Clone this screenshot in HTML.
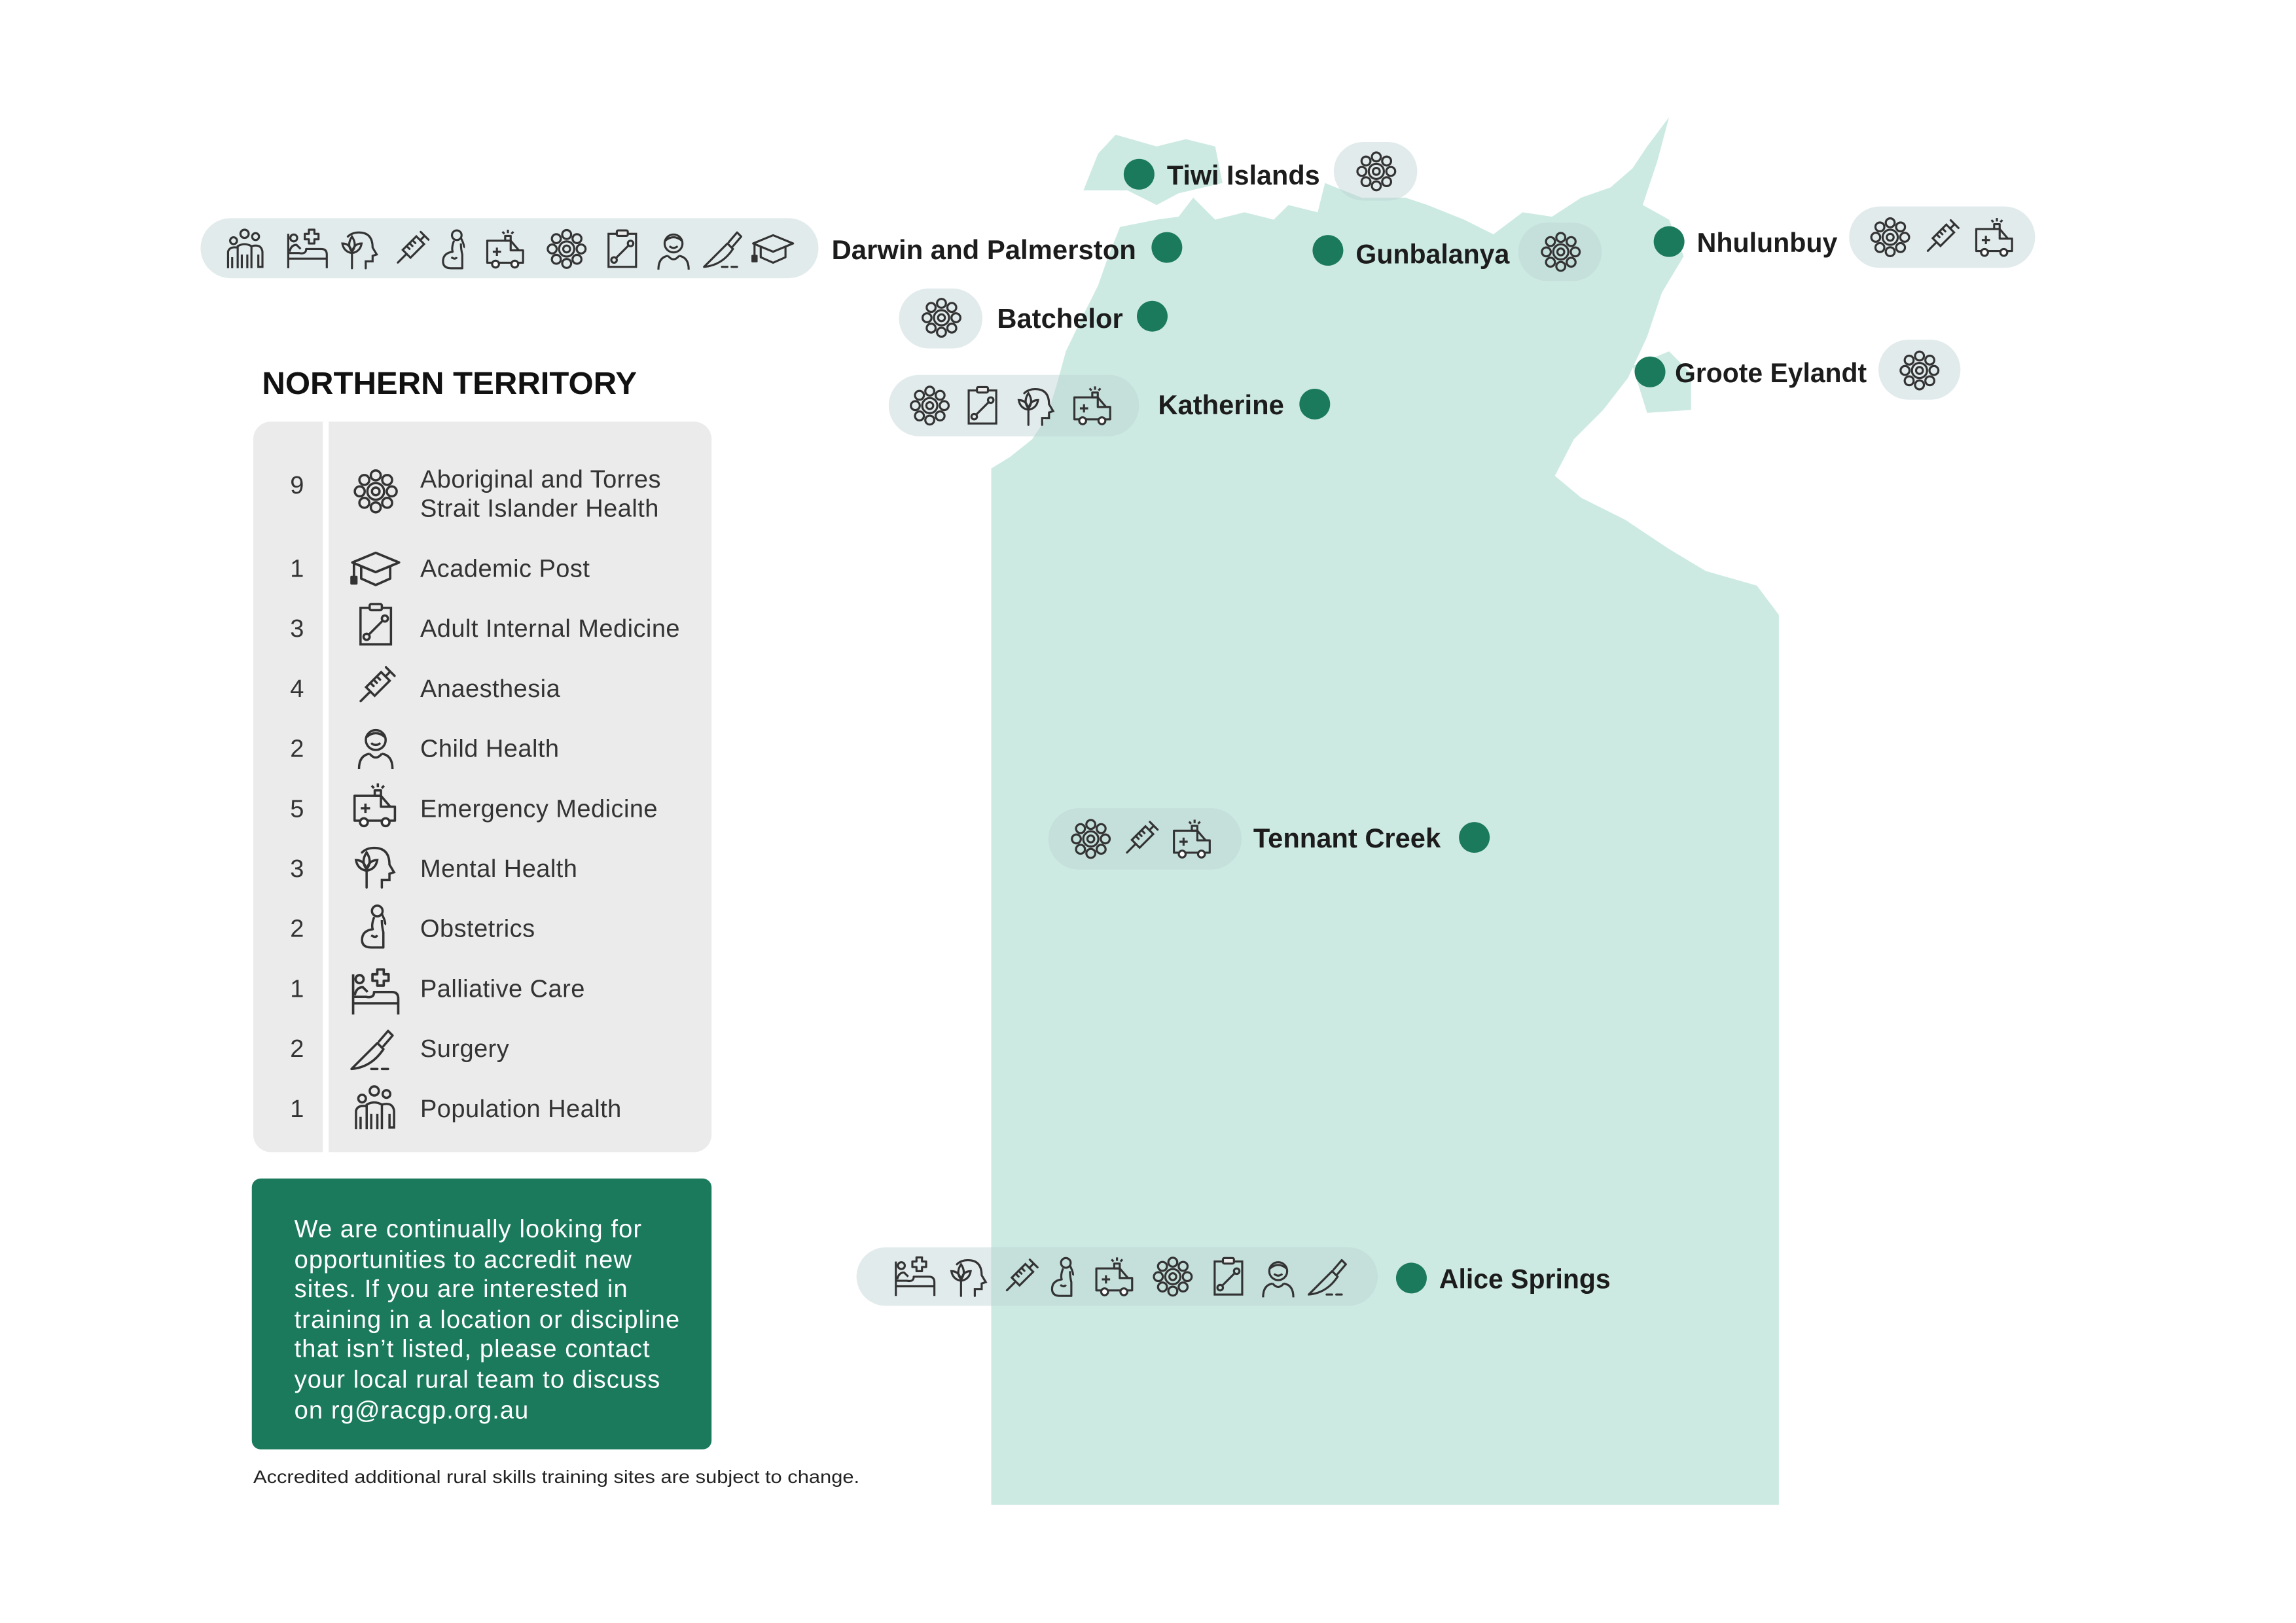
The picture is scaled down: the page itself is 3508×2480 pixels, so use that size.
<!DOCTYPE html>
<html><head><meta charset="utf-8"><style>html,body{margin:0;padding:0;background:#fff}svg{display:block}</style></head>
<body>
<svg xmlns="http://www.w3.org/2000/svg" width="3508" height="2480" viewBox="0 0 1568.2 1108.6">
<defs>
<g id="abor" fill="none" stroke="#333" stroke-width="3">
<circle cx="32" cy="32" r="5"/><circle cx="32" cy="32" r="11"/>
<circle cx="32" cy="11" r="6.5"/><circle cx="32" cy="53" r="6.5"/><circle cx="11" cy="32" r="6.5"/><circle cx="53" cy="32" r="6.5"/>
<circle cx="47" cy="17" r="6.5"/><circle cx="17" cy="17" r="6.5"/><circle cx="47" cy="47" r="6.5"/><circle cx="17" cy="47" r="6.5"/>
</g>
<g id="acad" fill="none" stroke="#333" stroke-width="3" stroke-linejoin="round">
<polygon points="3,24 32,12 61,24 32,36"/><path d="M14,29 V44 L32,52 L50,44 V29"/><path d="M5,25 V44"/><rect x="2" y="42" width="6" height="8" fill="#333"/>
</g>
<g id="adult" fill="none" stroke="#333" stroke-width="3">
<rect x="12" y="10" width="40" height="48"/><rect x="24" y="5" width="16" height="8" rx="2" fill="#ebebeb"/>
<path d="M22,46 L42,26"/><circle cx="20" cy="48" r="4"/><circle cx="44" cy="24" r="4"/>
</g>
<g id="anaes" fill="none" stroke="#333" stroke-width="3" stroke-linecap="round">
<g transform="rotate(45 32 32)"><rect x="24" y="14" width="16" height="28"/><path d="M32,42 V60 M32,14 V6 M24,5 H40 M24,22 H30 M24,28 H30 M24,34 H30"/></g>
</g>
<g id="child" fill="none" stroke="#333" stroke-width="3">
<circle cx="32" cy="24" r="13"/><path d="M20,20 Q32,10 44,20"/><path d="M26,28 Q32,33 38,28"/>
<path d="M10,62 Q10,44 24,42 M54,62 Q54,44 40,42 M24,42 Q32,52 40,42"/>
</g>
<g id="emerg" fill="none" stroke="#333" stroke-width="3" stroke-linejoin="round">
<path d="M6,20 H40 L52,34 H58 V52 H6 Z"/><path d="M40,20 V34 H52"/>
<circle cx="18" cy="54" r="5" fill="#fff"/><circle cx="46" cy="54" r="5" fill="#fff"/>
<path d="M20,30 V42 M14,36 H26"/><rect x="32" y="13" width="8" height="7"/><path d="M36,4 V9 M28,7 L31,10 M44,7 L41,10"/>
</g>
<g id="mental" fill="none" stroke="#333" stroke-width="3" stroke-linecap="round">
<path d="M40,60 V50 H50 V42 L56,40 L50,30 Q50,8 30,8 Q20,8 14,14"/>
<path d="M20,60 V38 M20,38 Q8,36 6,24 Q18,24 20,38 Q32,36 34,24 Q22,24 20,38 M20,36 Q12,26 20,14 Q28,26 20,36"/>
</g>
<g id="obst" fill="none" stroke="#333" stroke-width="3" stroke-linejoin="round">
<circle cx="34" cy="12" r="7"/><path d="M40,16 Q46,28 44,30"/>
<path d="M30,20 Q26,30 28,36 Q14,38 14,50 Q14,60 26,60 H42 V40 Q40,32 40,24"/><path d="M26,44 Q32,48 34,44"/>
</g>
<g id="pall" fill="none" stroke="#333" stroke-width="3" stroke-linejoin="round">
<path d="M4,10 V60 M4,46 H60 V60 M4,38 H20 Q30,40 30,32 H52 Q60,32 60,40 V46"/>
<path d="M6,36 Q8,26 16,26 L22,32"/><circle cx="12" cy="16" r="5"/>
<path d="M34,4 H42 V10 H48 V18 H42 V24 H34 V18 H28 V10 H34 Z"/>
</g>
<g id="surg" fill="none" stroke="#333" stroke-width="3" stroke-linejoin="round" stroke-linecap="round">
<path d="M4,58 L38,24 L46,32 Q30,56 4,58 Z" /><path d="M40,22 L52,8 L58,14 L46,28"/><path d="M30,58 H38 M44,58 H52"/>
</g>
<g id="pop" fill="none" stroke="#333" stroke-width="3">
<circle cx="32" cy="10" r="6"/><circle cx="48" cy="14" r="5"/><circle cx="16" cy="20" r="5"/>
<path d="M22,60 V28 Q32,22 42,28 V60 M28,60 V40 M36,60 V40 M42,28 Q56,24 58,36 V58 H52 V40 M8,60 V36 Q10,28 22,30 M14,60 V44"/>
</g>
</defs>

<!-- map -->
<g fill="#cdeae2">
<polygon points="677,1028 677,320 690,312 705,300 715,285 722,262 728,240 740,215 750,195 757,175 765,155 790,150 805,148 815,135 830,150 850,145 870,150 880,140 900,145 905,125 930,135 960,135 975,140 1000,150 1020,160 1040,145 1060,148 1080,135 1100,128 1115,115 1125,100 1140,80 1132,110 1122,140 1140,150 1150,175 1135,200 1125,230 1112,258 1095,280 1075,300 1062,325 1080,340 1110,355 1140,375 1165,390 1200,400 1215,420 1215,1028"/>
<polygon points="740,130 750,105 762,92 790,100 810,95 830,100 835,125 805,132 790,140 770,130"/>
<polygon points="1115,250 1140,240 1155,255 1155,280 1125,282"/>
<polygon points="700,320 720,330 740,352 730,350 710,335"/>
</g>

<!-- pills -->
<g fill="#b9cfd2" fill-opacity="0.42">
<rect x="137" y="149" width="422" height="41" rx="20.5"/>
<rect x="911" y="97" width="57" height="40" rx="20"/>
<rect x="1037" y="152" width="57" height="40" rx="20"/>
<rect x="1263" y="141" width="127" height="42" rx="21"/>
<rect x="614" y="197" width="57" height="41" rx="20.5"/>
<rect x="607" y="256" width="171" height="42" rx="21"/>
<rect x="1283" y="232" width="56" height="41" rx="20.5"/>
<rect x="716" y="552" width="132" height="42" rx="21"/>
<rect x="585" y="852" width="356" height="40" rx="20"/>
</g>

<!-- pill icons -->
<g>
<use href="#pop" transform="translate(152,155) scale(0.47)"/>
<use href="#pall" transform="translate(195,155) scale(0.47)"/>
<use href="#mental" transform="translate(231,155) scale(0.47)"/>
<use href="#anaes" transform="translate(266,155) scale(0.47)"/>
<use href="#obst" transform="translate(296,155) scale(0.47)"/>
<use href="#emerg" transform="translate(330,155) scale(0.47)"/>
<use href="#abor" transform="translate(372,155) scale(0.47)"/>
<use href="#adult" transform="translate(410,155) scale(0.47)"/>
<use href="#child" transform="translate(445,155) scale(0.47)"/>
<use href="#surg" transform="translate(479,155) scale(0.47)"/>
<use href="#acad" transform="translate(513,155) scale(0.47)"/>

<use href="#abor" transform="translate(925,102) scale(0.47)"/>
<use href="#abor" transform="translate(1051,157) scale(0.47)"/>
<use href="#abor" transform="translate(1276,147) scale(0.47)"/>
<use href="#anaes" transform="translate(1311,147) scale(0.47)"/>
<use href="#emerg" transform="translate(1347,147) scale(0.47)"/>
<use href="#abor" transform="translate(628,202) scale(0.47)"/>
<use href="#abor" transform="translate(620,262) scale(0.47)"/>
<use href="#adult" transform="translate(656,262) scale(0.47)"/>
<use href="#mental" transform="translate(693,262) scale(0.47)"/>
<use href="#emerg" transform="translate(731,262) scale(0.47)"/>
<use href="#abor" transform="translate(1296,238) scale(0.47)"/>
<use href="#abor" transform="translate(730,558) scale(0.47)"/>
<use href="#anaes" transform="translate(764,558) scale(0.47)"/>
<use href="#emerg" transform="translate(799,558) scale(0.47)"/>

<use href="#pall" transform="translate(610,857) scale(0.47)"/>
<use href="#mental" transform="translate(647,857) scale(0.47)"/>
<use href="#anaes" transform="translate(682,857) scale(0.47)"/>
<use href="#obst" transform="translate(712,857) scale(0.47)"/>
<use href="#emerg" transform="translate(746,857) scale(0.47)"/>
<use href="#abor" transform="translate(786,857) scale(0.47)"/>
<use href="#adult" transform="translate(824,857) scale(0.47)"/>
<use href="#child" transform="translate(858,857) scale(0.47)"/>
<use href="#surg" transform="translate(892,857) scale(0.47)"/>
</g>

<!-- dots -->
<g fill="#1b7a5c">
<circle cx="778" cy="119" r="10.5"/><circle cx="797" cy="169" r="10.5"/><circle cx="907" cy="171" r="10.5"/>
<circle cx="1140" cy="165" r="10.5"/><circle cx="787" cy="216" r="10.5"/><circle cx="898" cy="276" r="10.5"/>
<circle cx="1127" cy="254" r="10.5"/><circle cx="1007" cy="572" r="10.5"/><circle cx="964" cy="873" r="10.5"/>
</g>

<!-- labels -->
<g font-family="Liberation Sans, sans-serif" font-weight="bold" font-size="18.5" fill="#1c1c1c">
<text x="797" y="126">Tiwi Islands</text>
<text x="568" y="177" textLength="208" lengthAdjust="spacingAndGlyphs">Darwin and Palmerston</text>
<text x="926" y="180" textLength="105" lengthAdjust="spacingAndGlyphs">Gunbalanya</text>
<text x="1159" y="172" textLength="96" lengthAdjust="spacingAndGlyphs">Nhulunbuy</text>
<text x="681" y="224" textLength="86" lengthAdjust="spacingAndGlyphs">Batchelor</text>
<text x="791" y="283" textLength="86" lengthAdjust="spacingAndGlyphs">Katherine</text>
<text x="1144" y="261" textLength="131" lengthAdjust="spacingAndGlyphs">Groote Eylandt</text>
<text x="856" y="579" textLength="128" lengthAdjust="spacingAndGlyphs">Tennant Creek</text>
<text x="983" y="880" textLength="117" lengthAdjust="spacingAndGlyphs">Alice Springs</text>
</g>

<text x="179" y="269" font-family="Liberation Sans, sans-serif" font-weight="bold" font-size="21.5" fill="#111" textLength="256" lengthAdjust="spacingAndGlyphs">NORTHERN TERRITORY</text>

<!-- legend -->
<rect x="173" y="288" width="313" height="499" rx="12" fill="#ebebeb"/>
<rect x="220.5" y="288" width="4" height="499" fill="#fff"/>
<g font-family="Liberation Sans, sans-serif" font-size="17" fill="#333" letter-spacing="0.2">
<g text-anchor="middle">
<text x="203" y="337">9</text><text x="203" y="394">1</text><text x="203" y="435">3</text><text x="203" y="476">4</text>
<text x="203" y="517">2</text><text x="203" y="558">5</text><text x="203" y="599">3</text><text x="203" y="640">2</text>
<text x="203" y="681">1</text><text x="203" y="722">2</text><text x="203" y="763">1</text>
</g>
<text x="287" y="333">Aboriginal and Torres</text>
<text x="287" y="353">Strait Islander Health</text>
<text x="287" y="394">Academic Post</text>
<text x="287" y="435">Adult Internal Medicine</text>
<text x="287" y="476">Anaesthesia</text>
<text x="287" y="517">Child Health</text>
<text x="287" y="558">Emergency Medicine</text>
<text x="287" y="599">Mental Health</text>
<text x="287" y="640">Obstetrics</text>
<text x="287" y="681">Palliative Care</text>
<text x="287" y="722">Surgery</text>
<text x="287" y="763">Population Health</text>
</g>
<g>
<use href="#abor" transform="translate(240,319) scale(0.52)"/>
<use href="#acad" transform="translate(239,371) scale(0.55)"/>
<use href="#adult" transform="translate(240,410) scale(0.52)"/>
<use href="#anaes" transform="translate(240,452) scale(0.52)"/>
<use href="#child" transform="translate(240,493) scale(0.52)"/>
<use href="#emerg" transform="translate(239,533) scale(0.53)"/>
<use href="#mental" transform="translate(240,575) scale(0.52)"/>
<use href="#obst" transform="translate(240,616) scale(0.52)"/>
<use href="#pall" transform="translate(239,660) scale(0.55)"/>
<use href="#surg" transform="translate(238,700) scale(0.52)"/>
<use href="#pop" transform="translate(239,740) scale(0.52)"/>
</g>

<!-- green box -->
<rect x="172" y="805" width="314" height="185" rx="6" fill="#1b7a5c"/>
<g font-family="Liberation Sans, sans-serif" font-size="17" fill="#fff" letter-spacing="0.5">
<text x="201" y="845">We are continually looking for</text>
<text x="201" y="866">opportunities to accredit new</text>
<text x="201" y="886">sites. If you are interested in</text>
<text x="201" y="907">training in a location or discipline</text>
<text x="201" y="927">that isn’t listed, please contact</text>
<text x="201" y="948">your local rural team to discuss</text>
<text x="201" y="969">on rg@racgp.org.au</text>
</g>
<text x="173" y="1013" font-family="Liberation Sans, sans-serif" font-size="12.5" fill="#222" textLength="414" lengthAdjust="spacingAndGlyphs">Accredited additional rural skills training sites are subject to change.</text>
</svg>
</body></html>
